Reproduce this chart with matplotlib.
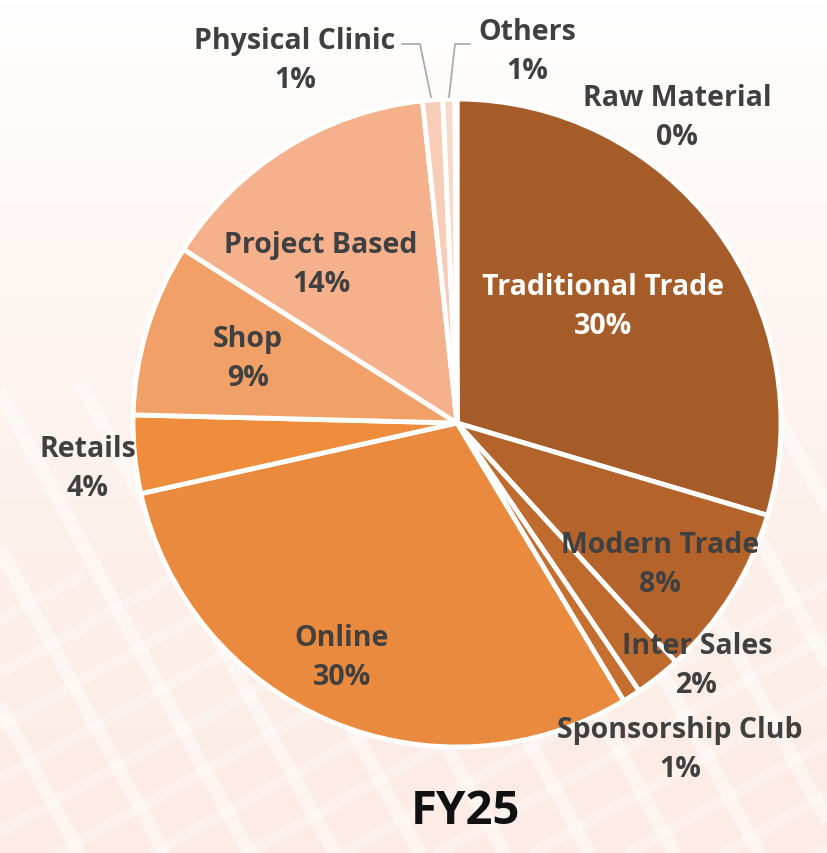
import matplotlib
matplotlib.use("Agg")
import matplotlib.pyplot as plt
from matplotlib.colors import LinearSegmentedColormap
import numpy as np

# FY25 revenue split by channel
channels = ["Traditional Trade", "Modern Trade", "Inter Sales", "Sponsorship Club",
            "Online", "Retails", "Shop", "Project Based", "Physical Clinic",
            "Others", "Raw Material"]
shares = [29.6, 8.6, 2.3, 0.9, 30.1, 3.9, 8.6, 14.3, 1.0, 0.6, 0.1]
shown_pct = ["30%", "8%", "2%", "1%", "30%", "4%", "9%", "14%", "1%", "1%", "0%"]
colors = ["#A65C28", "#B4642B", "#BF6B2E", "#C46F30", "#E98A3E", "#EF8D3C",
          "#F1A067", "#F4B18B", "#F7CDB8", "#F9DACA", "#FBE4D8"]

W, H = 828, 854
fig = plt.figure(figsize=(W / 100, H / 100), dpi=100)
ax = fig.add_axes([0, 0, 1, 1])

# faint background: white at the top fading to pale peach, with soft white bands
grad = np.linspace(0, 1, 200).reshape(-1, 1) ** 1.5
cmap = LinearSegmentedColormap.from_list("bg", ["#FCECE5", "#FFFFFF"])
ax.imshow(grad, extent=[0, W, 0, H], origin="lower", cmap=cmap, aspect="auto",
          zorder=0, vmin=0, vmax=1)
for k in range(-8, 16):
    x0 = k * 85
    ax.plot([x0, x0 - 260], [-10, 470], color="white", lw=10, alpha=0.45, zorder=0,
            solid_capstyle="butt")
for k in range(-8, 16):
    x0 = k * 95 + 40
    ax.plot([x0, x0 + 520], [-10, 280], color="white", lw=8, alpha=0.3, zorder=0,
            solid_capstyle="butt")

cx, cy, r = 457, H - 424, 324
wedges, _ = ax.pie(shares, colors=colors, startangle=90, counterclock=False,
                   center=(cx, cy), radius=r, frame=True,
                   wedgeprops=dict(edgecolor="white", linewidth=3.5, zorder=2))
ax.set_xlim(0, W)
ax.set_ylim(0, H)
ax.axis("off")

# label positions in pixels (image coords, y down)
label_pos = [(603, 307), (660, 565), (697, 666), (680, 750), (342, 658),
             (88, 469), (248, 359), (321, 265), (295, 61), (527, 52), (677, 118)]
font = dict(family=["Open Sans", "DejaVu Sans"], fontweight="bold", fontsize=20.5)
for name, pct, (lx, ly) in zip(channels, shown_pct, label_pos):
    col = "white" if name == "Traditional Trade" else "#404040"
    ax.text(lx, H - ly, f"{name}\n{pct}", ha="center", va="center", color=col,
            linespacing=1.45, zorder=5, **font)

# leader lines for the tiny slices
ax.plot([402, 420, 431], [H - 45, H - 45, H - 98], color="#A6A6A6", lw=1.2, zorder=4)
ax.plot([470, 455, 449], [H - 45, H - 45, H - 98], color="#A6A6A6", lw=1.2, zorder=4)

ax.text(465, H - 812, "FY25", ha="center", va="center", color="#111111",
        family=["Open Sans", "DejaVu Sans"], fontweight="bold", fontsize=34)

fig.savefig("out.png", dpi=100, facecolor="white")
